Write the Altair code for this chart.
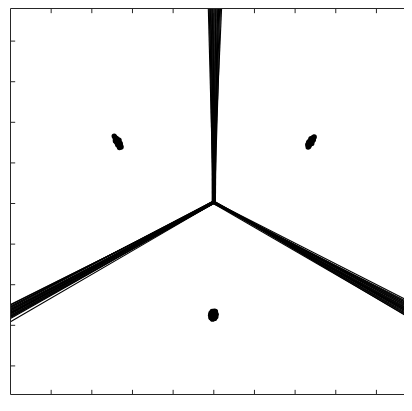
import altair as alt
import pandas as pd

# ---- data (axes run 0..10 in both directions) ----
# boundary fans: one vertex per run and the three places where its borders leave the box
vertex_x = [4.99, 5.01, 4.97, 5.02, 5.00, 4.98, 5.03, 4.99, 5.01, 4.96,
            5.02, 5.00, 4.98, 5.04, 4.99, 5.01, 4.97, 5.00, 5.02, 4.98]
vertex_y = [5.03, 5.01, 5.05, 5.02, 5.04, 5.00, 5.03, 5.06, 5.02, 5.04,
            5.01, 5.05, 5.03, 5.02, 5.00, 5.04, 5.03, 5.06, 5.01, 5.02]
top_x = [4.86, 4.88, 4.90, 4.91, 4.93, 4.95, 4.96, 4.98, 5.00, 5.01,
         5.03, 5.05, 5.06, 5.08, 5.10, 5.12, 5.13, 5.15, 5.17, 5.20]      # at y = 10
left_y = [2.30, 2.09, 2.45, 2.21, 2.37, 2.17, 2.50, 2.27, 2.41, 2.33,
          2.19, 2.47, 2.25, 2.39, 2.51, 2.23, 2.35, 2.43, 2.29, 2.31]     # at x = 0
right_y = [2.28, 2.41, 2.11, 2.36, 2.20, 2.46, 2.07, 2.32, 2.16, 2.26,
           2.43, 2.13, 2.38, 2.22, 2.09, 2.49, 2.30, 2.18, 2.34, 2.24]    # at x = 10

# three clusters of points
cluster_a_x = [2.55, 2.57, 2.60, 2.58, 2.62, 2.65, 2.61, 2.67, 2.69, 2.64, 2.71, 2.72, 2.68, 2.62,
               2.67, 2.59, 2.66, 2.58, 2.67, 2.63, 2.70]
cluster_a_y = [6.66, 6.63, 6.60, 6.57, 6.56, 6.52, 6.51, 6.48, 6.45, 6.44, 6.42, 6.39, 6.38, 6.59,
               6.50, 6.61, 6.46, 6.54, 6.56, 6.47, 6.48]
cluster_b_x = [7.32, 7.33, 7.31, 7.35, 7.38, 7.36, 7.40, 7.42, 7.39, 7.44, 7.45, 7.47, 7.43, 7.34,
               7.37, 7.33, 7.41, 7.34, 7.41, 7.39, 7.45]
cluster_b_y = [6.39, 6.42, 6.45, 6.47, 6.50, 6.53, 6.55, 6.58, 6.60, 6.61, 6.63, 6.64, 6.55, 6.41,
               6.46, 6.49, 6.52, 6.52, 6.48, 6.57, 6.57]
cluster_c_x = [4.93, 4.96, 5.01, 5.04, 5.06, 5.05, 5.02, 4.97, 4.93, 4.92, 4.99, 5.03, 4.96, 5.01,
               4.98, 4.94, 5.04]
cluster_c_y = [2.30, 2.34, 2.35, 2.32, 2.27, 2.21, 2.17, 2.15, 2.19, 2.25, 2.25, 2.28, 2.22, 2.20,
               2.31, 2.18, 2.34]

x_ticks = [1, 2, 3, 4, 5, 6, 7, 8, 9]
y_ticks = [1, 2, 3, 4, 5, 6, 7, 8, 9]

# visible part of the box (the reference is cut at the right, top and bottom)
X_MAX = 9.678
Y_MAX = 9.803
Y_MIN = 0.296
TICK_LEN = 0.115
AXIS_COLOR = "#262626"

# ---- tables ----
seg_rows = []
for i in range(len(vertex_x)):
    vx, vy = vertex_x[i], vertex_y[i]
    seg_rows.append({"x": vx, "y": vy, "x2": top_x[i], "y2": 10.0})
    seg_rows.append({"x": vx, "y": vy, "x2": 0.0, "y2": left_y[i]})
    seg_rows.append({"x": vx, "y": vy, "x2": 10.0, "y2": right_y[i]})
segs = pd.DataFrame(seg_rows)

pts = pd.DataFrame({
    "x": cluster_a_x + cluster_b_x + cluster_c_x,
    "y": cluster_a_y + cluster_b_y + cluster_c_y,
})

frame = pd.DataFrame([
    {"x": 0.0, "y": Y_MIN, "x2": 0.0, "y2": Y_MAX},
    {"x": 0.0, "y": Y_MIN, "x2": X_MAX, "y2": Y_MIN},
    {"x": 0.0, "y": Y_MAX, "x2": X_MAX, "y2": Y_MAX},
])

tick_rows = []
for t in x_ticks:
    tick_rows.append({"x": t, "y": Y_MIN, "x2": t, "y2": Y_MIN + TICK_LEN})
    tick_rows.append({"x": t, "y": Y_MAX, "x2": t, "y2": Y_MAX - TICK_LEN})
for t in y_ticks:
    tick_rows.append({"x": 0.0, "y": t, "x2": TICK_LEN, "y2": t})
ticks = pd.DataFrame(tick_rows)

xs = alt.Scale(domain=[0, X_MAX], nice=False, zero=False)
ys = alt.Scale(domain=[Y_MIN, Y_MAX], nice=False, zero=False)


def rules(df, color, width, clip=False):
    return alt.Chart(df).mark_rule(color=color, strokeWidth=width, clip=clip).encode(
        x=alt.X("x:Q", scale=xs, axis=None),
        y=alt.Y("y:Q", scale=ys, axis=None),
        x2="x2:Q",
        y2="y2:Q",
    )


lines = rules(segs, "black", 1.1, clip=True)
points = alt.Chart(pts).mark_circle(color="black", size=28, opacity=1).encode(
    x=alt.X("x:Q", scale=xs, axis=None),
    y=alt.Y("y:Q", scale=ys, axis=None),
)
box = rules(frame, AXIS_COLOR, 1)
tk = rules(ticks, AXIS_COLOR, 1)

chart = alt.layer(lines, points, tk, box).properties(
    width=393.5,
    height=386,
    autosize="none",
    padding={"left": 2.5, "top": 0.5, "right": 0, "bottom": 1},
    background="white",
).configure_view(stroke=None)

chart.save("out.html", embed_options={"renderer": "svg", "actions": False})
